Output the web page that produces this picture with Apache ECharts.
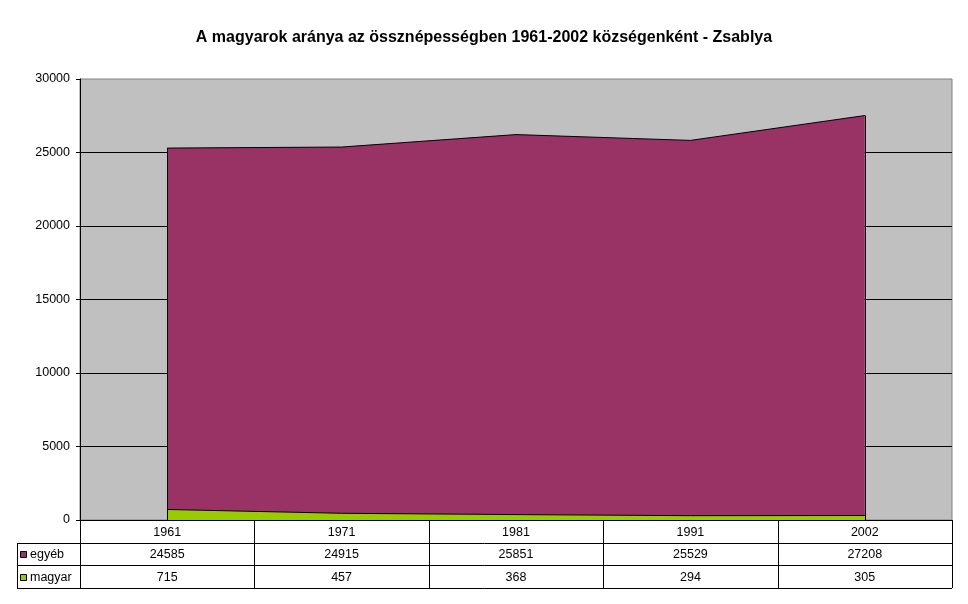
<!DOCTYPE html>
<html>
<head>
<meta charset="utf-8">
<script src="https://cdn.jsdelivr.net/npm/echarts@6/dist/echarts.min.js"></script>
<style>
  html, body { margin: 0; padding: 0; background: #fff; }
  #chart { width: 968px; height: 604px; }
</style>
</head>
<body>
<div id="chart"></div>
<script>
// adatok
const years = ['1961', '1971', '1981', '1991', '2002'];
const egyeb = [24585, 24915, 25851, 25529, 27208];
const magyar = [715, 457, 368, 294, 305];
const seriesNames = ['egyéb', 'magyar'];

const FONT = '"Liberation Sans", Arial, sans-serif';
const COL_EGYEB = '#993366';
const COL_MAGYAR = '#99CC00';

// plot terület
const plot = { left: 80, right: 952, top: 79, bottom: 520 };
const rowY = [520, 543, 565, 588];
const labelLeft = 17;

const totals = years.map((y, i) => egyeb[i] + magyar[i]);

// adattábla grafikája
function buildTable() {
  const els = [];
  const colW = (plot.right - plot.left) / years.length;
  const line = (x1, y1, x2, y2) => ({
    type: 'line', silent: true,
    shape: { x1, y1, x2, y2 },
    style: { stroke: '#000', lineWidth: 1 }
  });
  const text = (x, y, t, align) => ({
    type: 'text', silent: true, x, y,
    style: { text: t, font: '12.5px ' + FONT, fill: '#000', align: align || 'center', verticalAlign: 'middle' }
  });
  // vízszintes vonalak
  els.push(line(plot.left, rowY[0] + 0.5, plot.right, rowY[0] + 0.5));
  for (let r = 1; r < rowY.length; r++) {
    els.push(line(labelLeft, rowY[r] + 0.5, plot.right, rowY[r] + 0.5));
  }
  // függőleges vonalak
  for (let c = 0; c <= years.length; c++) {
    const x = Math.round(plot.left + c * colW) + 0.5;
    els.push(line(x, rowY[0], x, rowY[3]));
  }
  els.push(line(labelLeft + 0.5, rowY[1], labelLeft + 0.5, rowY[3]));
  // fejléc
  years.forEach((y, i) => els.push(text(plot.left + (i + 0.5) * colW, (rowY[0] + rowY[1]) / 2 + 1, y)));
  // sorok
  const rows = [
    { name: seriesNames[0], color: COL_EGYEB, data: egyeb },
    { name: seriesNames[1], color: COL_MAGYAR, data: magyar }
  ];
  rows.forEach((row, r) => {
    const cy = (rowY[r + 1] + rowY[r + 2]) / 2 + 1;
    els.push({
      type: 'rect', silent: true,
      shape: { x: labelLeft + 3.5, y: Math.round(cy) - 3.5, width: 6, height: 6 },
      style: { fill: row.color, stroke: '#000', lineWidth: 1 }
    });
    els.push(text(labelLeft + 13, cy, row.name, 'left'));
    row.data.forEach((v, i) => els.push(text(plot.left + (i + 0.5) * colW, cy, String(v))));
  });
  return els;
}

const myChart = echarts.init(document.getElementById('chart'), null, { renderer: 'canvas' });
myChart.setOption({
  animation: false,
  backgroundColor: '#fff',
  title: {
    text: 'A magyarok aránya az össznépességben 1961-2002 községenként - Zsablya',
    left: 'center',
    top: 25,
    textStyle: { fontFamily: FONT, fontSize: 16, fontWeight: 'bold', color: '#000' }
  },
  grid: {
    left: plot.left, right: 968 - plot.right, top: plot.top, bottom: 604 - plot.bottom,
    show: true, backgroundColor: '#C0C0C0', borderColor: '#808080', borderWidth: 1
  },
  xAxis: {
    type: 'category',
    data: years,
    boundaryGap: true,
    axisLine: { show: true, lineStyle: { color: '#000' } },
    axisTick: { show: false },
    axisLabel: { show: false },
    splitLine: { show: false }
  },
  yAxis: {
    type: 'value',
    min: 0, max: 30000, interval: 5000,
    axisLine: { show: true, lineStyle: { color: '#000' } },
    axisTick: { show: true, length: 4, lineStyle: { color: '#000' } },
    axisLabel: { color: '#000', fontFamily: FONT, fontSize: 12.5, margin: 10, formatter: v => String(v) },
    splitLine: { show: true, showMaxLine: false, lineStyle: { color: '#000', width: 1 } }
  },
  series: [
    {
      name: seriesNames[1], type: 'line', stack: 'total', data: magyar,
      symbol: 'none', lineStyle: { color: '#000', width: 1 },
      areaStyle: { color: COL_MAGYAR, opacity: 1 }
    },
    {
      name: seriesNames[0], type: 'line', stack: 'total', data: egyeb,
      symbol: 'none', lineStyle: { color: '#000', width: 1 },
      areaStyle: { color: COL_EGYEB, opacity: 1 },
      markLine: {
        silent: true, symbol: 'none', label: { show: false },
        lineStyle: { color: '#000', width: 1, type: 'solid' },
        data: [
          [{ coord: [0, 0] }, { coord: [0, totals[0]] }],
          [{ coord: [years.length - 1, 0] }, { coord: [years.length - 1, totals[years.length - 1]] }]
        ]
      }
    }
  ],
  graphic: buildTable()
});
</script>
</body>
</html>
